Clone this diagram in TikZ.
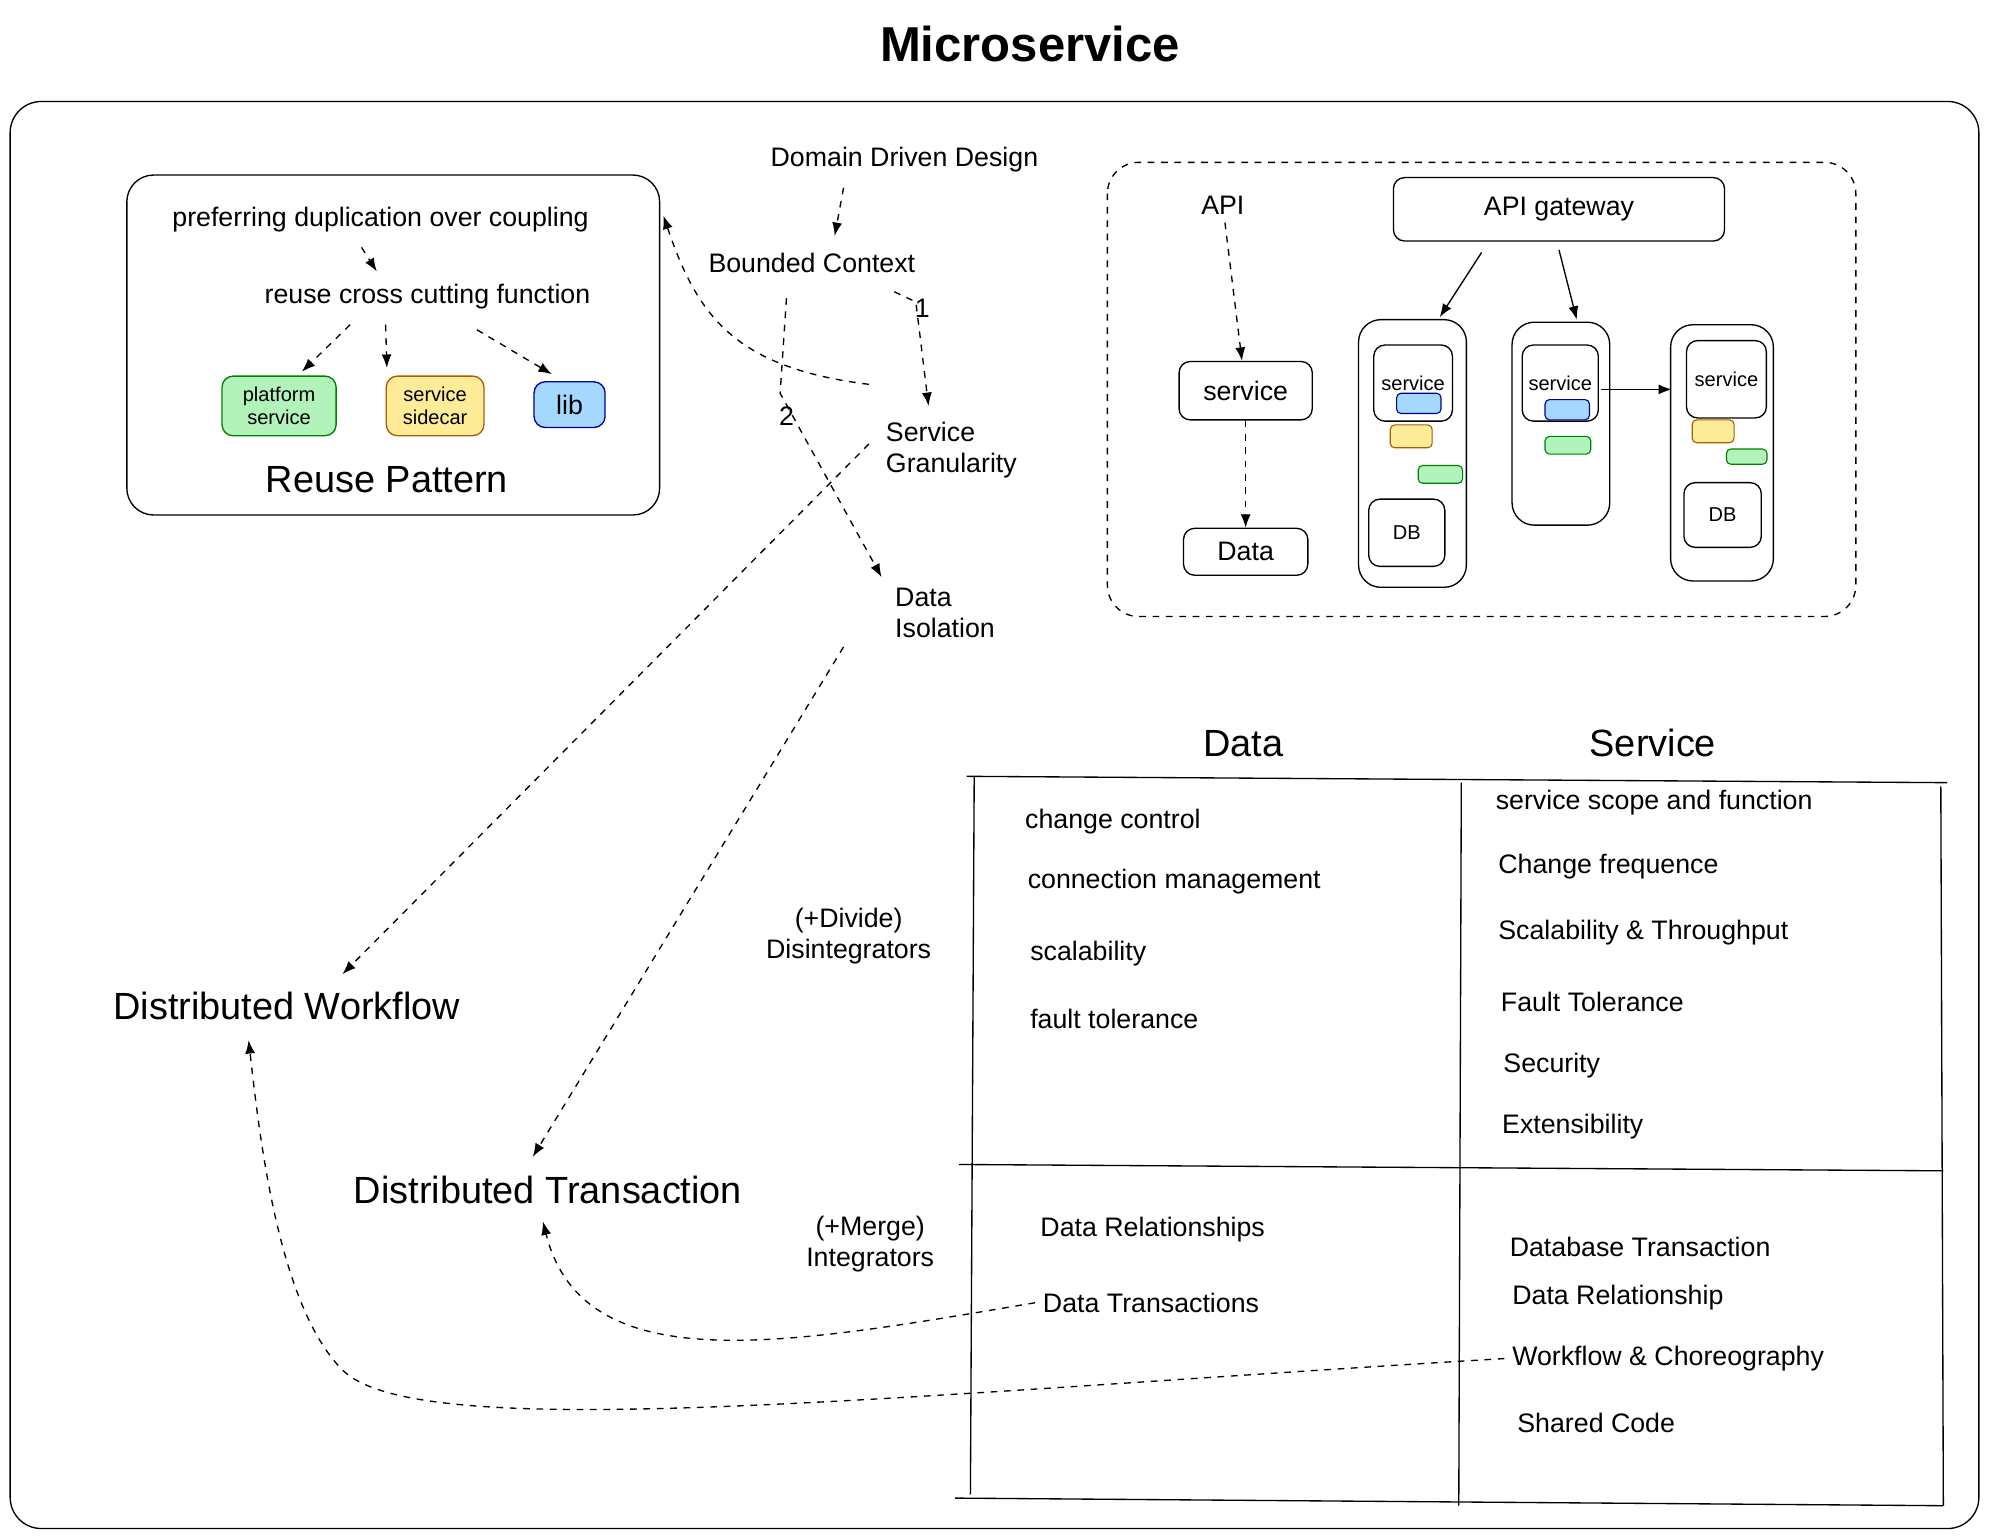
\documentclass[tikz,border=0pt]{standalone}
\usepackage{fontspec}
\setmainfont{Liberation Sans}
\usetikzlibrary{arrows.meta}
\definecolor{gfill}{HTML}{B2F2BB}\definecolor{yfill}{HTML}{FFEC99}\definecolor{bfill}{HTML}{A5D8FF}
\begin{document}
\begin{tikzpicture}[x=0.02cm,y=-0.02cm,
  t/.style={font=\fontsize{12}{14}\selectfont,align=center},
  big/.style={font=\fontsize{17}{20}\selectfont},
  sm/.style={font=\fontsize{9}{10}\selectfont,align=center},
  box/.style={draw,rounded corners=5pt,line width=0.6pt},
  da/.style={dashed,-{Latex[length=6pt]},line width=0.6pt},
  sa/.style={-{Latex[length=6pt]},line width=0.6pt}]
\useasboundingbox (0,0) rectangle (1568,1212);
\node[font=\fontsize{22}{26}\selectfont\bfseries] (title) at (812,35) {Microservice};
\draw[box,rounded corners=14pt] (8,80) rectangle (1560,1205);
% reuse box
\draw[box,rounded corners=12pt] (100,138) rectangle (520,406);
\coordinate (reuseR) at (523,170);
\node[t] (pref) at (300,173) {preferring duplication over coupling};
\node[t] (rcc) at (337,234) {reuse cross cutting function};
\node[box,fill=gfill,draw=green!50!black,sm,minimum height=47*0.02cm,minimum width=90*0.02cm,inner sep=1pt] (plat) at (220,320) {platform\\service};
\node[box,fill=yfill,draw=orange!70!black,sm,minimum height=47*0.02cm,minimum width=77*0.02cm,inner sep=1pt] (side) at (343,320) {service\\sidecar};
\node[box,fill=bfill,draw=blue!60!black,t,minimum height=36*0.02cm,minimum width=56*0.02cm,inner sep=1pt] (lib) at (449,319) {lib};
\node[big] (rp) at (305,378) {Reuse Pattern};
\draw[da] (285,195) -- (297,214);
\draw[da] (276,256) -- (238,293);
\draw[da] (304,256) -- (305,290);
\draw[da] (376,260) -- (435,295);
% DDD
\node[t] (ddd) at (713,126) {Domain Driven Design};
\node[t] (bc) at (640,207) {Bounded Context};
\draw[da] (665,148) -- (658,186);
\node[t,align=left] (sg) at (750,355) {Service\\Granularity};
\node[t,align=left] (di) at (745,483) {Data\\Isolation};
\draw[da] (705,230) -- (722,238) -- (732,320);
\node[t] at (727,243) {1};
\draw[da] (620,235) -- (615,310) -- (695,455);
\node[t] at (620,328) {2};
\draw[da] (685,303) .. controls (580,290) and (550,250) .. (reuseR);
\node[big] (dw) at (226,793) {Distributed Workflow};
\node[big] (dt) at (432,938) {Distributed Transaction};
\draw[da] (685,350) -- (270,768);
\draw[da] (665,510) -- (420,912);
\node[t] (div) at (669,738) {(+Divide)\\Disintegrators};
\node[t] (mer) at (686,981) {(+Merge)\\Integrators};
% table
\node[big] (hd) at (980,586) {Data};
\node[big] (hs) at (1303,586) {Service};
\draw[line width=0.6pt] (762,612) -- (1535,617);
\draw[line width=0.6pt] (768,612) -- (765,1178);
\draw[line width=0.6pt] (1152,617) -- (1150,1187);
\draw[line width=0.6pt] (1530,620) -- (1532,1187);
\draw[line width=0.6pt] (756,918) -- (1532,923);
\draw[line width=0.6pt] (753,1181) -- (1532,1187);
\begin{scope}[every node/.style={t,anchor=west}]
\node (a1) at (802,648) {change control};
\node (a2) at (804,695) {connection management};
\node (a3) at (806,752) {scalability};
\node (a4) at (806,803) {fault tolerance};
\node (a5) at (814,969) {Data Relationships};
\node (a6) at (816,1027) {Data Transactions};
\node (b1) at (1173,633) {service scope and function};
\node (b2) at (1175,683) {Change frequence};
\node (b3) at (1175,735) {Scalability \& Throughput};
\node (b4) at (1177,790) {Fault Tolerance};
\node (b5) at (1179,840) {Security};
\node (b6) at (1178,888) {Extensibility};
\node (b7) at (1184,983) {Database Transaction};
\node (b8) at (1186,1023) {Data Relationship};
\node (b9) at (1186,1071) {Workflow \& Choreography};
\node (b10) at (1190,1122) {Shared Code};
\end{scope}
\draw[da] (a6.west) .. controls (620,1060) and (460,1090) .. (428,963);
\draw[da] (b9.west) .. controls (700,1100) and (330,1140) .. (270,1080) .. controls (220,1030) and (205,900) .. (196,820);
% dashed architecture box
\draw[box,dashed,rounded corners=14pt] (873,128) rectangle (1463,486);
\node[t] (api) at (964,162) {API};
\node[box,t,minimum width=105*0.02cm,minimum height=46*0.02cm] (svc) at (982,308) {service};
\node[box,t,minimum width=98*0.02cm,minimum height=37*0.02cm] (dat) at (982,435) {Data};
\draw[da] (api) -- (svc);
\draw[da] (svc) -- (dat);
\node[box,t,minimum width=261*0.02cm,minimum height=50*0.02cm] (gw) at (1229,165) {API gateway};
\draw[box,rounded corners=10pt] (1071,252) rectangle (1156,463);
\draw[box,rounded corners=10pt] (1192,254) rectangle (1269,414);
\draw[box,rounded corners=10pt] (1317,256) rectangle (1398,458);
\coordinate (c1) at (1135,250); \coordinate (c2) at (1243,252);
\draw[sa] (1168,199) -- (c1);
\draw[sa] (1229,197) -- (c2);
\node[box,sm,minimum width=62*0.02cm,minimum height=60*0.02cm] (s1) at (1114,302) {};
\node[sm] at (1114,302) {service};
\node[box,sm,minimum width=60*0.02cm,minimum height=60*0.02cm] (s2) at (1230,302) {};
\node[sm] at (1230,302) {service};
\node[box,sm,minimum width=63*0.02cm,minimum height=61*0.02cm] (s3) at (1361,299) {};
\node[sm] at (1361,299) {service};
\node[box,sm,minimum width=60*0.02cm,minimum height=53*0.02cm] (db1) at (1109,420) {DB};
\node[box,sm,minimum width=61*0.02cm,minimum height=51*0.02cm] (db3) at (1358,406) {DB};
\tikzset{chip/.style={draw,rounded corners=2pt,line width=0.5pt}}
\draw[chip,fill=bfill,draw=blue!60!black] (1101,310) rectangle (1136,326);
\draw[chip,fill=yfill,draw=orange!70!black] (1096,335) rectangle (1129,353);
\draw[chip,fill=gfill,draw=green!50!black] (1118,367) rectangle (1153,381);
\draw[chip,fill=bfill,draw=blue!60!black] (1218,315) rectangle (1253,331);
\draw[chip,fill=gfill,draw=green!50!black] (1218,344) rectangle (1254,358);
\draw[chip,fill=yfill,draw=orange!70!black] (1334,331) rectangle (1367,349);
\draw[chip,fill=gfill,draw=green!50!black] (1361,354) rectangle (1393,366);
\draw[sa] (1262,307) -- (1318,307);
\end{tikzpicture}
\end{document}
